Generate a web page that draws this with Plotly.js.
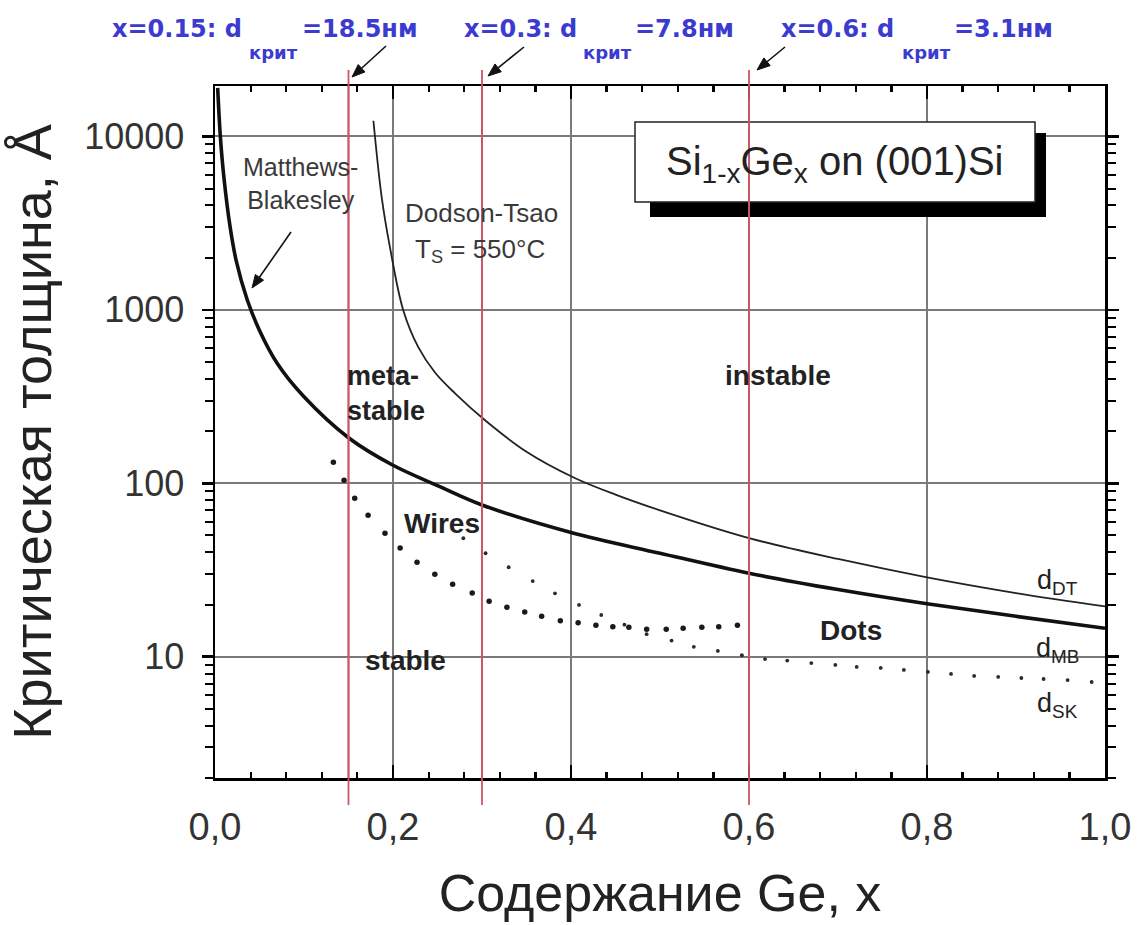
<!DOCTYPE html>
<html>
<head>
<meta charset="utf-8">
<script src="https://cdn.plot.ly/plotly-3.0.1.min.js"></script>
<style>
  html, body { margin: 0; padding: 0; background: #fff; }
  #chart { width: 1138px; height: 925px; }
</style>
</head>
<body>
<div id="chart"></div>
<script>
// ---- data ----
// Matthews-Blakesley critical thickness (thick curve)
const xMB = [0.003, 0.006, 0.010, 0.017, 0.024, 0.036, 0.050, 0.070, 0.100, 0.150, 0.200, 0.250, 0.300, 0.400, 0.500, 0.600, 0.700, 0.800, 0.900, 1.000];
const yMB = [19000, 10000, 5800, 3000, 1900, 1150, 760, 490, 315, 183, 127, 97, 75, 52, 39.5, 30.3, 24.4, 20.2, 17.1, 14.6];
// Dodson-Tsao, Ts = 550 °C (thin curve)
const xDT = [0.178, 0.1873, 0.1966, 0.2116, 0.2284, 0.2472, 0.2697, 0.3034, 0.350, 0.403, 0.450, 0.500, 0.600, 0.700, 0.800, 0.900, 1.000];
const yDT = [12300, 4450, 2290, 991, 609, 435, 330, 231, 152, 108, 86, 69.8, 48.3, 36.6, 28.7, 23.3, 19.5];
// dotted boundary of the "Wires" region
const xWires = [0.133, 0.145, 0.157, 0.172, 0.191, 0.208, 0.227, 0.247, 0.267, 0.289, 0.308, 0.328, 0.348, 0.367, 0.388, 0.408, 0.428, 0.447, 0.465, 0.485, 0.507, 0.526, 0.547, 0.566, 0.587];
const yWires = [132, 104, 82, 65.5, 51.5, 42.3, 35.1, 29.9, 26.2, 23.3, 20.9, 19.3, 18.1, 17.1, 16.1, 15.7, 15.2, 14.9, 14.8, 14.4, 14.4, 14.6, 14.8, 14.9, 15.2];
// Stranski-Krastanov d_SK (sparse dots)
const xSK = [0.279, 0.304, 0.330, 0.357, 0.382, 0.409, 0.434, 0.460, 0.485, 0.513, 0.538, 0.565, 0.592, 0.618, 0.643, 0.670, 0.697, 0.721, 0.748, 0.774, 0.801, 0.827, 0.853, 0.880, 0.906, 0.931, 0.958, 0.985];
const ySK = [48.2, 39.5, 32.8, 27.3, 23.2, 19.9, 17.4, 15.3, 13.5, 12.4, 11.4, 10.8, 10.2, 9.7, 9.5, 9.2, 8.97, 8.74, 8.62, 8.39, 8.18, 7.96, 7.75, 7.65, 7.54, 7.44, 7.34, 7.15];
// critical compositions (red lines) and their labels
const critX = [0.15, 0.3, 0.6];
const critHead = ['x=0.15: d', 'x=0.3: d', 'x=0.6: d'];
const critSub = ['крит', 'крит', 'крит'];
const critTail = ['=18.5нм', '=7.8нм', '=3.1нм'];
// axis ranges and ticks
const xRange = [0, 1];
const yRangeLog = [Math.log10(2), Math.log10(19500)];
const xTickVals = [0, 0.2, 0.4, 0.6, 0.8, 1.0];
const xTickText = ['0,0', '0,2', '0,4', '0,6', '0,8', '1,0'];
const yTickVals = [10, 100, 1000, 10000];
const yTickText = ['10', '100', '1000', '10000'];

// ---- layout geometry (pixels of the 1138x925 page) ----
const L = 215, R = 33, T = 86, B = 147;
const W = 1138, H = 925;
const PW = W - L - R, PH = H - T - B;
const px = v => (v - L) / PW;                                   // page x pixel -> paper
const dx = v => xRange[0] + px(v) * (xRange[1] - xRange[0]);   // page x pixel -> x data
const py = v => (H - B - v) / PH;                               // page y pixel -> paper
const dy = v => Math.pow(10, yRangeLog[0] + py(v) * (yRangeLog[1] - yRangeLog[0])); // page y pixel -> y data (log)

const FONT = 'Liberation Sans, Arial, Helvetica, sans-serif';
const BLUE = '#3b3bd0';
const RED = 'rgb(205,85,100)';

const yBottom = Math.pow(10, yRangeLog[0]), yTop = Math.pow(10, yRangeLog[1]);
const traces = [
  { x: xMB, y: yMB, mode: 'lines', line: { color: '#111', width: 3.6, shape: 'spline', smoothing: 1 }, name: 'd_MB', hoverinfo: 'x+y' },
  { x: xDT, y: yDT, mode: 'lines', line: { color: '#222', width: 1.8, shape: 'spline', smoothing: 1 }, name: 'd_DT', hoverinfo: 'x+y' },
  { x: xWires, y: yWires, mode: 'markers', marker: { color: '#1a1a1a', size: 5.5 }, name: 'Wires', hoverinfo: 'x+y' },
  { x: xSK, y: ySK, mode: 'markers', marker: { color: '#2a2a2a', size: 3.8 }, name: 'd_SK', hoverinfo: 'x+y' }
];
// in-plot part of each red critical-composition line (above the framed box)
critX.forEach(v => traces.push({
  x: [v, v], y: [yBottom, yTop], mode: 'lines', line: { color: RED, width: 1.8 }, hoverinfo: 'skip', name: 'x=' + v
}));

const shapes = [];
// legend-box shadow and box: above the grid, below the traces and red lines
shapes.push({ type: 'rect', xref: 'x', yref: 'y', x0: dx(650), x1: dx(1046), y0: dy(217), y1: dy(133), fillcolor: '#000', line: { width: 0 }, layer: 'between' });
shapes.push({ type: 'rect', xref: 'x', yref: 'y', x0: dx(635), x1: dx(1035), y0: dy(202), y1: dy(122), fillcolor: '#fff', line: { color: '#222', width: 1.5 }, layer: 'between' });
// red critical-composition lines, extending beyond the frame
critX.forEach(v => shapes.push({
  type: 'line', xref: 'x', yref: 'paper', x0: v, x1: v, y0: py(805), y1: py(70),
  line: { color: RED, width: 1.8 }, layer: 'above'
}));
// arrows drawn as a shaft plus a filled head (page pixel positions)
function arrow(hx, hy, tx, ty) {
  const len = Math.hypot(hx - tx, hy - ty);
  const ux = (hx - tx) / len, uy = (hy - ty) / len;
  const hl = 13, hw = 5;
  const bx = hx - ux * hl, by = hy - uy * hl;
  const p1 = [bx - uy * hw, by + ux * hw], p2 = [bx + uy * hw, by - ux * hw];
  shapes.push({ type: 'line', xref: 'x', yref: 'paper', x0: dx(tx), y0: py(ty), x1: dx(bx), y1: py(by),
    line: { color: '#111', width: 1.6 }, layer: 'above' });
  shapes.push({ type: 'path', xref: 'x', yref: 'paper',
    path: 'M' + dx(hx) + ',' + py(hy) + ' L' + dx(p1[0]) + ',' + py(p1[1]) + ' L' + dx(p2[0]) + ',' + py(p2[1]) + ' Z',
    fillcolor: '#111', line: { color: '#111', width: 1 }, layer: 'above' });
}
arrow(352, 77, 386, 46);
arrow(488, 76, 524, 47);
arrow(757, 70, 785, 47);
arrow(252, 288, 291, 232);

const ann = [];
function txt(text, xpx, ypx, size, opts) {
  ann.push(Object.assign({
    text: text, xref: 'paper', yref: 'paper', x: px(xpx), y: py(ypx),
    xanchor: 'center', yanchor: 'middle', showarrow: false,
    font: { family: FONT, size: size, color: '#222' }
  }, opts || {}));
}

// blue critical-thickness labels at the top
const headLeft = [110, 462, 779];
const subLeft = [247, 581, 900];
const tailLeft = [300, 633, 952];
critX.forEach((v, i) => {
  txt('<b>' + critHead[i] + '</b>', headLeft[i], 29, 24, { xanchor: 'left', font: { family: 'DejaVu Sans, sans-serif', size: 24, color: BLUE } });
  txt('<b>' + critSub[i] + '</b>', subLeft[i], 52, 18, { xanchor: 'left', font: { family: 'DejaVu Sans, sans-serif', size: 18, color: BLUE } });
  txt('<b>' + critTail[i] + '</b>', tailLeft[i], 29, 24, { xanchor: 'left', font: { family: 'DejaVu Sans, sans-serif', size: 24, color: BLUE } });
});

// curve names and regions
txt('Matthews-<br>Blakesley', 300, 184, 25, { font: { family: FONT, size: 25, color: '#3a3a3a' } });
txt('Dodson-Tsao', 481, 213, 26, { font: { family: FONT, size: 26, color: '#3a3a3a' } });
txt('T<sub>S</sub> = 550°C', 480, 250, 26, { font: { family: FONT, size: 26, color: '#3a3a3a' } });
txt('<b>meta-<br>stable</b>', 345, 393, 27, { xanchor: 'left', align: 'left' });
txt('<b>instable</b>', 778, 375, 28);
txt('<b>Wires</b>', 442, 523, 28);
txt('<b>stable</b>', 405, 660, 28);
txt('<b>Dots</b>', 851, 630, 28);
txt('d<sub>DT</sub>', 1057, 582, 27);
txt('d<sub>MB</sub>', 1057, 650, 27);
txt('d<sub>SK</sub>', 1057, 705, 27);
txt('Si<sub>1-x</sub>Ge<sub>x</sub> on (001)Si', 835, 164, 40);

const layout = {
  width: W, height: H,
  margin: { l: L, r: R, t: T, b: B, pad: 0 },
  paper_bgcolor: '#fff', plot_bgcolor: '#fff',
  showlegend: false,
  font: { family: FONT, color: '#222' },
  xaxis: {
    range: xRange, tickmode: 'array', tickvals: xTickVals, ticktext: xTickText,
    ticks: 'inside', ticklen: 13, tickwidth: 2.5, tickcolor: '#000',
    ticklabelstandoff: 14,
    minor: { tick0: 0, dtick: 0.04, ticks: 'inside', ticklen: 6, tickwidth: 2.2, tickcolor: '#000', showgrid: false },
    showline: true, linecolor: '#000', linewidth: 2.5, mirror: 'ticks',
    showgrid: true, gridcolor: '#7a7a7a', gridwidth: 1.8, zeroline: false,
    tickfont: { family: FONT, size: 38, color: '#333' },
    title: { text: 'Содержание Ge, x', font: { family: FONT, size: 52, color: '#222' }, standoff: 28 }
  },
  yaxis: {
    type: 'log', range: yRangeLog,
    tickmode: 'array', tickvals: yTickVals, ticktext: yTickText,
    ticks: 'outside', ticklen: 11, tickwidth: 2.5, tickcolor: '#000',
    ticklabelstandoff: 10,
    minor: { dtick: 'D1', ticks: 'outside', ticklen: 8, tickwidth: 2, tickcolor: '#000', showgrid: false },
    showline: true, linecolor: '#000', linewidth: 2.5, mirror: 'ticks',
    showgrid: true, gridcolor: '#7a7a7a', gridwidth: 1.8, zeroline: false,
    tickfont: { family: FONT, size: 36, color: '#333' },
    title: { text: 'Критическая толщина, Å', font: { family: FONT, size: 54, color: '#222' }, standoff: 16 }
  },
  shapes: shapes,
  annotations: ann
};

Plotly.newPlot('chart', traces, layout, { displayModeBar: false, staticPlot: true });
</script>
</body>
</html>
